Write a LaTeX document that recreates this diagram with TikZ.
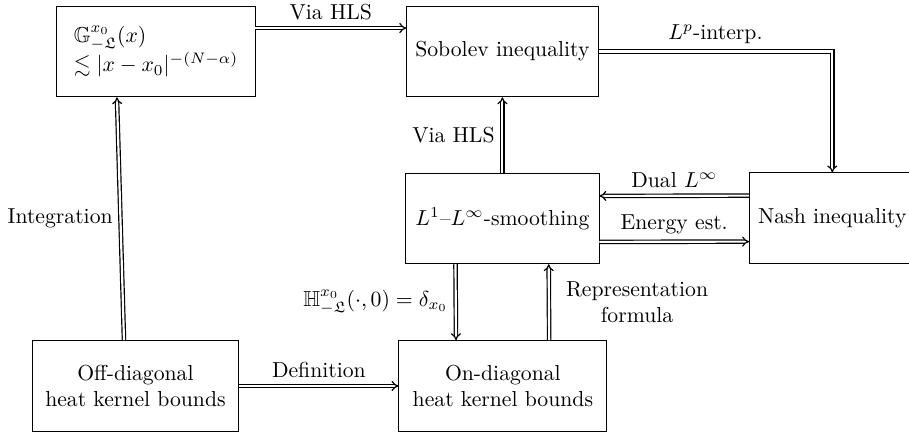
\documentclass[tikz,border=0pt]{standalone}
\usepackage{amsmath}
\usepackage{amssymb,amsfonts}
\usepackage{tikz}
\usetikzlibrary{arrows.meta}
\def\largeur{14.73}
\def\hauteur{7.015}

\begin{document}
\begin{tikzpicture}[x=1cm, y=1cm,
	boite/.style={draw, line width=0.4pt, minimum height=1.47cm, inner sep=4pt},
	fleche/.style={double, double distance=1pt, line width=0.55pt, -{Implies}}]
	\useasboundingbox (0,0) rectangle (\largeur,\hauteur);
	%\draw[step=1cm, line width=0.2mm, black!20!white] (0,0) grid (\largeur,\hauteur);
	\node[boite, minimum width=3.21cm, align=left] (green) at (2.527,6.18)
		{$\mathbb{G}^{x_0}_{-\mathfrak{L}}(x)$\\ $\lesssim |x-x_0|^{-(N-\alpha)}$};
	\node[boite, minimum width=3.09cm] (sobolev) at (8.141,6.18) {Sobolev inequality};
	\node[boite, minimum width=3.13cm] (smooth) at (8.141,3.475) {$L^1$--$L^\infty$-smoothing};
	\node[boite, minimum width=2.64cm] (nash) at (13.487,3.48) {Nash inequality};
	\node[boite, minimum width=3.35cm, align=center] (offdiag) at (2.195,0.761)
		{Off-diagonal\\ heat kernel bounds};
	\node[boite, minimum width=3.37cm, align=center] (ondiag) at (8.149,0.761)
		{On-diagonal\\ heat kernel bounds};
	\coordinate (coin) at (sobolev.east -| nash.north);
	\draw[fleche] ([yshift=3.8mm]green.east) -- ([yshift=3.8mm]sobolev.west)
		node[midway, above]{Via HLS};
	\draw[fleche] (sobolev.east) -- (coin)
		node[midway, above]{$L^p$-interp.} -- (nash.north);
	\draw[fleche] (smooth) -- (sobolev)
		node[midway, left]{Via HLS};
	\draw[fleche] ([yshift=3.65mm]nash.west) -- ([yshift=3.65mm]smooth.east)
		node[midway, above]{Dual $L^\infty$};
	\draw[fleche] ([yshift=-3.8mm]smooth.east) -- ([yshift=-3.8mm]nash.west)
		node[midway, above]{Energy est.};
	\draw[fleche] ([xshift=-7.6mm]smooth.south) -- ([xshift=-7.6mm]ondiag.north)
		node[midway, left]{$\mathbb{H}^{x_0}_{-\mathfrak{L}}(\cdot,0)=\delta_{x_0}$};
	\draw[fleche] ([xshift=7.5mm]ondiag.north) -- ([xshift=7.5mm]smooth.south)
		node[midway, right, xshift=1.5mm, align=center]{Representation\\ formula};
	\draw[fleche] ([xshift=-1.86mm]offdiag.north) -- ([xshift=-6.32mm]green.south)
		node[midway, left]{Integration};
	\draw[fleche] (offdiag) -- (ondiag)
		node[midway, above]{Definition};
\end{tikzpicture}
\end{document}
